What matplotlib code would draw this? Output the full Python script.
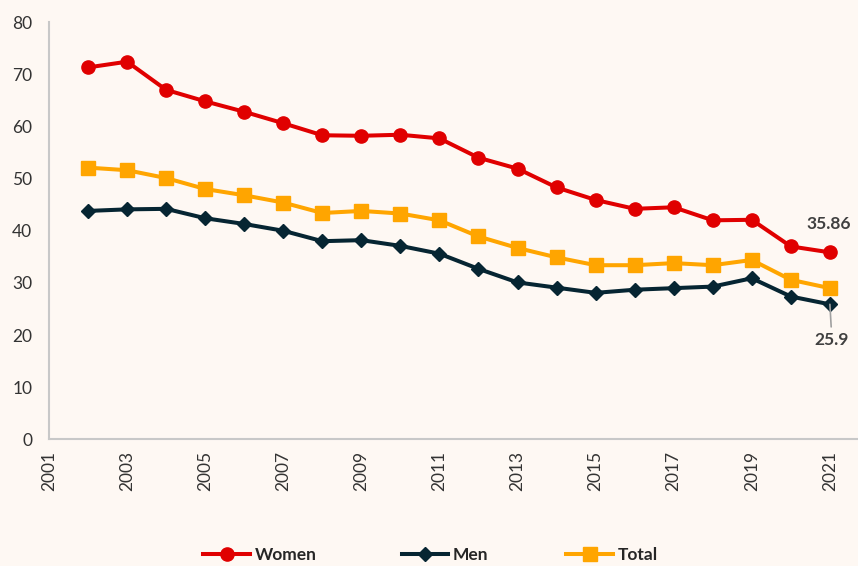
import matplotlib
matplotlib.use("Agg")
import matplotlib.pyplot as plt
from matplotlib.lines import Line2D

years = list(range(2002, 2022))
women = [71.3, 72.4, 67.0, 64.8, 62.8, 60.6, 58.3, 58.2, 58.4, 57.7,
         54.0, 51.9, 48.3, 45.9, 44.2, 44.5, 42.0, 42.1, 37.0, 35.86]
men = [43.8, 44.1, 44.2, 42.4, 41.3, 40.0, 38.0, 38.2, 37.1, 35.6,
       32.7, 30.1, 29.1, 28.1, 28.7, 29.0, 29.3, 30.9, 27.4, 25.9]
total = [52.1, 51.6, 50.1, 48.0, 46.8, 45.4, 43.4, 43.8, 43.3, 42.0,
         38.9, 36.7, 34.9, 33.4, 33.4, 33.8, 33.4, 34.4, 30.6, 29.0]
xticks = list(range(2001, 2022, 2))
yticks = list(range(0, 81, 10))

BG = "#FEF8F3"
RED = "#E00000"
DARK = "#062532"
ORANGE = "#FFA500"
FONT = ["Lato", "DejaVu Sans"]

plt.rcParams["font.family"] = FONT

fig = plt.figure(figsize=(8.58, 5.66), dpi=100, facecolor=BG)
ax = fig.add_axes([0.0571, 0.2235, 0.9429, 0.7376], facecolor=BG)

lw = 2.9
l1, = ax.plot(years, women, color=RED, lw=lw, marker="o", ms=9.5, label="Women", zorder=3)
l2, = ax.plot(years, men, color=DARK, lw=lw, marker="D", ms=7.5, label="Men", zorder=3)
l3, = ax.plot(years, total, color=ORANGE, lw=lw, marker="s", ms=9.5, label="Total", zorder=3)

ax.set_xlim(2001, 2021.72)
ax.set_ylim(0, 80)
ax.set_xticks(xticks)
ax.set_xticklabels([str(x) for x in xticks], rotation=90)
ax.set_yticks(yticks)
ax.tick_params(axis="both", length=0, labelsize=12.5, colors="#333333")
ax.tick_params(axis="x", pad=8)
ax.tick_params(axis="y", pad=12)
for s in ["top", "right"]:
    ax.spines[s].set_visible(False)
for s in ["left", "bottom"]:
    ax.spines[s].set_color("#C8C8C8")
    ax.spines[s].set_linewidth(1.5)

ax.annotate("35.86", xy=(years[-1], women[-1]), xytext=(-0.5, 20.5),
            textcoords="offset points", ha="center", va="center",
            fontsize=12.5, fontweight="bold", color="#404040")
ax.annotate("25.9", xy=(years[-1], men[-1]), xytext=(1.5, -26),
            textcoords="offset points", ha="center", va="center",
            fontsize=12.5, fontweight="bold", color="#404040",
            arrowprops=dict(arrowstyle="-", color="#A0A0A0", lw=1.2,
                            shrinkA=2, shrinkB=0))

for handle, xpos in [(l1, 0.237), (l2, 0.468), (l3, 0.660)]:
    lg = fig.legend(handles=[handle], loc="center left", bbox_to_anchor=(xpos, 0.02),
                    frameon=False, fontsize=12.5, handlelength=2.7, handletextpad=0.25,
                    borderpad=0, borderaxespad=0,
                    prop={"family": FONT, "weight": "bold", "size": 12.5})
    for t in lg.get_texts():
        t.set_color("#262626")

fig.savefig("out.png", dpi=100, facecolor=BG)
